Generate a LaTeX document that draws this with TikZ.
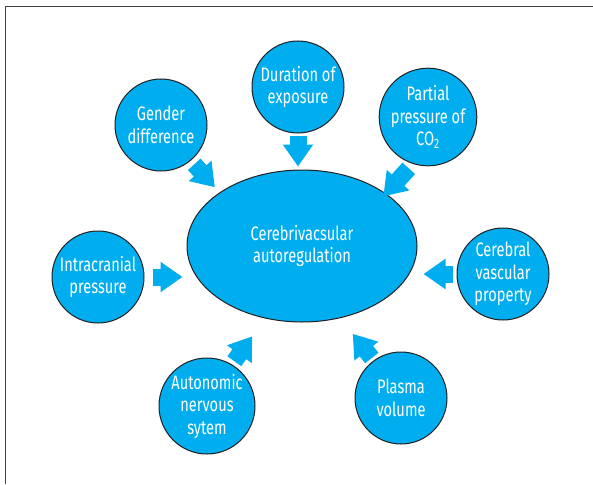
\documentclass[tikz,border=0pt]{standalone}
\usepackage{fontspec}
\setmainfont{Fira Sans}[FakeStretch=0.75]
\usetikzlibrary{positioning,shapes.geometric,arrows.meta}
\definecolor{cyanblue}{HTML}{00AEEF}
\definecolor{darkline}{HTML}{231F20}
\tikzstyle{factor} = [circle, minimum size=92pt, inner sep=0pt, fill=cyanblue, draw=darkline, line width=1pt, text=white, align=center, font=\fontsize{19.5}{22.5}\selectfont]
\tikzstyle{centre} = [ellipse, minimum width=230pt, minimum height=152pt, inner sep=0pt, fill=cyanblue, draw=darkline, line width=1pt, text=white, align=center, font=\fontsize{19.5}{22}\selectfont]
\tikzstyle{arrow} = [cyanblue, line width=17pt, -{Triangle[length=22pt, width=29pt]}]

\begin{document}
\begin{tikzpicture}[x=1pt, y=-1pt]
\useasboundingbox (0,0) rectangle (593,484);
\fill[white] (0,0) rectangle (593,484);
\draw[darkline!85, line width=1pt] (5,484) -- (5,7) -- (593,7);
\node (cva) [centre] at (302,246) {Cerebrivacsular\\autoregulation};
\node (duration) [factor] at (298,87) {Duration of\\exposure};
\node (gender) [factor] at (161,125) {Gender\\difference};
\node (co2) [factor] at (428,117) {Partial\\pressure of\\CO\textsubscript{2}};
\node (icp) [factor] at (98,277) {Intracranial\\pressure};
\node (cvp) [factor] at (503,274) {Cerebral\\vascular\\property};
\node (ans) [factor] at (207,406) {Autonomic\\nervous\\sytem};
\node (plasma) [factor] at (401,398) {Plasma\\volume};
\draw [arrow, shorten <=2pt, shorten >=3pt] (duration.south) -- (duration.south |- cva.north);
\draw [arrow, shorten <=5pt, shorten >=7pt] (gender.-50) -- (cva.147);
\draw [arrow, shorten <=6pt, shorten >=-4pt] (co2.-108) -- (cva.32);
\draw [arrow, shorten <=8pt, shorten >=4pt] (icp.east) -- (icp.east -| cva.west);
\draw [arrow, shorten <=4pt, shorten >=6pt] (cvp.west) -- (cvp.west -| cva.east);
\draw [arrow, shorten <=4pt, shorten >=22pt] (ans.59) -- (cva.-117);
\draw [arrow, shorten <=3pt, shorten >=20pt] (plasma.126) -- (cva.-62);
\end{tikzpicture}
\end{document}
